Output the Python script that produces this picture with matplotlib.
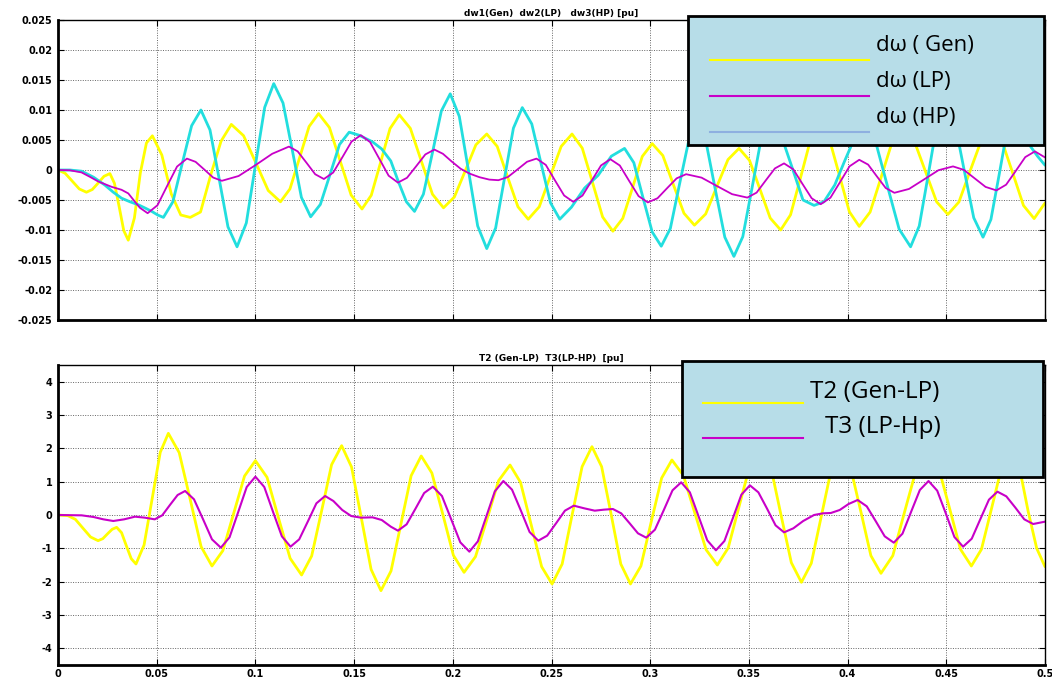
import numpy as np
import matplotlib
matplotlib.use("Agg")
from matplotlib import pyplot as plt
from matplotlib.patches import Rectangle
from matplotlib.lines import Line2D

plt.rcParams["axes.unicode_minus"] = False

# time axis [s] and speed deviations (x 1e-3 pu)
t_gen = [0.0000, 0.0036, 0.0072, 0.0108, 0.0144, 0.0174, 0.0204, 0.0233, 0.0263, 0.0286,
         0.0310, 0.0333, 0.0356, 0.0387, 0.0417, 0.0448, 0.0478, 0.0526, 0.0574, 0.0622,
         0.0670, 0.0722, 0.0774, 0.0826, 0.0878, 0.0940, 0.1003, 0.1065, 0.1127, 0.1175,
         0.1224, 0.1272, 0.1320, 0.1375, 0.1430, 0.1485, 0.1540, 0.1587, 0.1635, 0.1682,
         0.1729, 0.1785, 0.1841, 0.1897, 0.1953, 0.2008, 0.2063, 0.2117, 0.2172, 0.2225,
         0.2277, 0.2330, 0.2382, 0.2438, 0.2493, 0.2549, 0.2604, 0.2656, 0.2708, 0.2759,
         0.2811, 0.2861, 0.2911, 0.2960, 0.3010, 0.3064, 0.3117, 0.3171, 0.3224, 0.3281,
         0.3337, 0.3394, 0.3450, 0.3503, 0.3556, 0.3608, 0.3661, 0.3711, 0.3761, 0.3810,
         0.3860, 0.3910, 0.3960, 0.4009, 0.4059, 0.4114, 0.4170, 0.4225, 0.4280, 0.4337,
         0.4394, 0.4451, 0.4508, 0.4564, 0.4619, 0.4675, 0.4730, 0.4784, 0.4838, 0.4891,
         0.4945, 0.5000]
dw_gen = [0, -0.54, -1.85, -3.16, -3.7, -3.25, -2.15, -1.05, -0.6, -2.22,
          -6.15, -10.08, -11.7, -8.0, -0.5, 4.5, 5.7, 2.5, -4.0, -7.5,
          -7.9, -7.0, -0.8, 4.8, 7.6, 5.72, 1.15, -3.42, -5.3, -3.15,
          2.05, 7.25, 9.4, 7.08, 1.45, -4.18, -6.5, -4.21, 1.35, 6.91,
          9.2, 6.94, 1.45, -4.04, -6.3, -4.5, -0.15, 4.2, 6.0, 3.93,
          -1.1, -6.13, -8.2, -6.13, -1.1, 3.93, 6.0, 3.63, -2.1, -7.83,
          -10.2, -8.07, -2.9, 2.27, 4.4, 2.41, -2.4, -7.21, -9.2, -7.33,
          -2.8, 1.73, 3.6, 1.61, -3.2, -8.01, -10.0, -7.47, -1.35, 4.77,
          7.3, 4.86, -1.05, -6.96, -9.4, -7.01, -1.2, 4.61, 7.0, 4.9,
          -0.2, -5.3, -7.4, -5.33, -0.3, 4.73, 6.8, 4.62, -0.65, -5.92,
          -8.1, -5.5]

t_lp = [0.0000, 0.0060, 0.0119, 0.0165, 0.0203, 0.0271, 0.0322, 0.0356, 0.0390, 0.0415,
        0.0454, 0.0504, 0.0553, 0.0603, 0.0653, 0.0697, 0.0742, 0.0786, 0.0830, 0.0915,
        0.1000, 0.1085, 0.1170, 0.1214, 0.1259, 0.1303, 0.1347, 0.1394, 0.1441, 0.1487,
        0.1534, 0.1581, 0.1628, 0.1675, 0.1722, 0.1768, 0.1815, 0.1861, 0.1907, 0.1950,
        0.1995, 0.2040, 0.2085, 0.2135, 0.2185, 0.2231, 0.2279, 0.2328, 0.2376, 0.2424,
        0.2471, 0.2517, 0.2564, 0.2610, 0.2657, 0.2704, 0.2751, 0.2798, 0.2846, 0.2893,
        0.2941, 0.2988, 0.3037, 0.3085, 0.3134, 0.3182, 0.3260, 0.3337, 0.3415, 0.3492,
        0.3539, 0.3585, 0.3632, 0.3678, 0.3725, 0.3771, 0.3818, 0.3864, 0.3913, 0.3962,
        0.4010, 0.4059, 0.4104, 0.4148, 0.4193, 0.4237, 0.4311, 0.4386, 0.4460, 0.4534,
        0.4589, 0.4644, 0.4699, 0.4754, 0.4803, 0.4852, 0.4900, 0.4949, 0.5000]
dw_lp = [0, -0.05, -0.4, -1.2, -1.9, -2.8, -3.3, -3.9, -5.3, -6.3,
         -7.2, -5.87, -2.65, 0.57, 1.9, 1.36, 0.05, -1.26, -1.8, -1.0,
         0.8, 2.7, 3.9, 3.11, 1.2, -0.71, -1.5, -0.43, 2.15, 4.73,
         5.8, 4.65, 1.85, -0.95, -2.1, -1.3, 0.65, 2.6, 3.4, 2.7,
         1.4, 0.2, -0.6, -1.2, -1.6, -1.7, -1.17, 0.1, 1.37, 1.9,
         0.85, -1.7, -4.25, -5.3, -4.26, -1.75, 0.76, 1.8, 0.75, -1.8,
         -4.35, -5.4, -4.71, -3.05, -1.39, -0.7, -1.27, -2.65, -4.03, -4.6,
         -3.77, -1.75, 0.27, 1.1, 0.11, -2.3, -4.71, -5.7, -4.62, -2.0,
         0.62, 1.7, 0.9, -1.05, -3.0, -3.8, -3.16, -1.6, -0.04, 0.6,
         0.02, -1.4, -2.82, -3.4, -2.45, -0.15, 2.15, 3.1, 2.1]

t_hp = [0.0000, 0.0060, 0.0120, 0.0180, 0.0237, 0.0280, 0.0322, 0.0365, 0.0407, 0.0445,
        0.0475, 0.0505, 0.0534, 0.0582, 0.0629, 0.0677, 0.0724, 0.0770, 0.0816, 0.0861,
        0.0907, 0.0954, 0.1000, 0.1047, 0.1093, 0.1140, 0.1187, 0.1233, 0.1280, 0.1329,
        0.1378, 0.1426, 0.1475, 0.1525, 0.1593, 0.1640, 0.1686, 0.1725, 0.1765, 0.1806,
        0.1851, 0.1897, 0.1942, 0.1987, 0.2033, 0.2080, 0.2126, 0.2172, 0.2217, 0.2262,
        0.2307, 0.2352, 0.2400, 0.2447, 0.2495, 0.2542, 0.2601, 0.2668, 0.2736, 0.2803,
        0.2870, 0.2917, 0.2963, 0.3010, 0.3056, 0.3102, 0.3147, 0.3193, 0.3238, 0.3285,
        0.3331, 0.3378, 0.3424, 0.3469, 0.3515, 0.3560, 0.3605, 0.3661, 0.3718, 0.3774,
        0.3830, 0.3880, 0.3935, 0.3985, 0.4035, 0.4085, 0.4144, 0.4202, 0.4261, 0.4319,
        0.4363, 0.4408, 0.4452, 0.4496, 0.4544, 0.4591, 0.4639, 0.4686, 0.4726, 0.4766,
        0.4805, 0.4845, 0.4885, 0.4925, 0.4962, 0.5000]
dw_hp = [0, 0, -0.2, -1.2, -2.5, -3.7, -4.7, -5.3, -5.8, -6.4,
         -6.9, -7.5, -7.9, -5.29, 1.05, 7.39, 10.0, 6.67, -1.4, -9.47,
         -12.8, -8.83, 0.8, 10.43, 14.4, 11.16, 3.3, -4.56, -7.8, -5.74,
         -0.75, 4.24, 6.3, 5.8, 4.7, 3.5, 1.5, -2.0, -5.3, -6.9,
         -4.04, 2.9, 9.84, 12.7, 8.93, -0.2, -9.33, -13.1, -9.67, -1.35,
         6.97, 10.4, 7.68, 1.1, -5.48, -8.2, -6.2, -3.0, -0.9, 2.3,
         3.6, 1.22, -4.55, -10.32, -12.7, -9.75, -2.6, 4.55, 7.5, 4.3,
         -3.45, -11.2, -14.4, -11.12, -3.15, 4.82, 8.1, 6.0, 0.5, -5.0,
         -5.9, -5.3, -2.5, 1.5, 5.3, 7.4, 4.45, -2.7, -9.85, -12.8,
         -9.33, -0.9, 7.53, 11.0, 7.76, -0.1, -7.96, -11.2, -8.25, -1.1,
         6.05, 9.0, 6.5, 4.0, 2.3, 0.8]

# shaft torques [pu]
t_t2 = [0.0000, 0.0050, 0.0088, 0.0127, 0.0165, 0.0203, 0.0227, 0.0250, 0.0274, 0.0297,
        0.0322, 0.0346, 0.0371, 0.0395, 0.0436, 0.0477, 0.0518, 0.0559, 0.0614, 0.0670,
        0.0725, 0.0780, 0.0835, 0.0890, 0.0945, 0.1000, 0.1059, 0.1117, 0.1176, 0.1234,
        0.1285, 0.1336, 0.1386, 0.1437, 0.1487, 0.1537, 0.1586, 0.1636, 0.1687, 0.1738,
        0.1789, 0.1840, 0.1894, 0.1949, 0.2003, 0.2057, 0.2115, 0.2174, 0.2232, 0.2290,
        0.2343, 0.2397, 0.2450, 0.2503, 0.2554, 0.2604, 0.2655, 0.2705, 0.2754, 0.2803,
        0.2851, 0.2900, 0.2953, 0.3005, 0.3058, 0.3110, 0.3168, 0.3225, 0.3283, 0.3340,
        0.3395, 0.3450, 0.3505, 0.3560, 0.3612, 0.3663, 0.3715, 0.3766, 0.3816, 0.3866,
        0.3916, 0.3966, 0.4017, 0.4068, 0.4118, 0.4169, 0.4229, 0.4288, 0.4348, 0.4407,
        0.4462, 0.4517, 0.4572, 0.4627, 0.4678, 0.4729, 0.4779, 0.4830, 0.4873, 0.4915,
        0.4958, 0.5000]
T2 = [0, -0.02, -0.13, -0.4, -0.66, -0.77, -0.71, -0.57, -0.43, -0.37,
      -0.53, -0.92, -1.31, -1.47, -0.9, 0.49, 1.88, 2.45, 1.87, 0.46,
      -0.95, -1.53, -1.07, 0.05, 1.17, 1.63, 1.13, -0.09, -1.3, -1.8,
      -1.23, 0.14, 1.51, 2.08, 1.44, -0.1, -1.63, -2.27, -1.68, -0.25,
      1.18, 1.77, 1.26, 0.03, -1.21, -1.72, -1.25, -0.11, 1.03, 1.5,
      0.98, -0.29, -1.55, -2.07, -1.47, -0.01, 1.45, 2.05, 1.45, -0.01,
      -1.47, -2.07, -1.53, -0.21, 1.11, 1.65, 1.19, 0.08, -1.04, -1.5,
      -0.99, 0.25, 1.49, 2.0, 1.41, -0.01, -1.43, -2.02, -1.45, -0.06,
      1.33, 1.9, 1.37, 0.08, -1.22, -1.75, -1.22, 0.08, 1.37, 1.9,
      1.4, 0.19, -1.03, -1.53, -1.03, 0.19, 1.4, 1.9, 1.35, 0.1,
      -1.0, -1.55]

t_t3 = [0.0000, 0.0120, 0.0180, 0.0230, 0.0280, 0.0335, 0.0390, 0.0440, 0.0490, 0.0528,
        0.0567, 0.0606, 0.0644, 0.0689, 0.0735, 0.0780, 0.0825, 0.0869, 0.0913, 0.0956,
        0.1000, 0.1045, 0.1089, 0.1134, 0.1178, 0.1222, 0.1266, 0.1309, 0.1353, 0.1395,
        0.1440, 0.1485, 0.1535, 0.1593, 0.1640, 0.1686, 0.1722, 0.1766, 0.1811, 0.1855,
        0.1899, 0.1945, 0.1992, 0.2038, 0.2084, 0.2127, 0.2170, 0.2213, 0.2256, 0.2300,
        0.2345, 0.2389, 0.2433, 0.2478, 0.2523, 0.2568, 0.2613, 0.2666, 0.2719, 0.2765,
        0.2811, 0.2853, 0.2896, 0.2938, 0.2980, 0.3024, 0.3069, 0.3113, 0.3157, 0.3201,
        0.3245, 0.3289, 0.3333, 0.3376, 0.3419, 0.3462, 0.3505, 0.3548, 0.3592, 0.3635,
        0.3678, 0.3725, 0.3775, 0.3830, 0.3875, 0.3915, 0.3960, 0.4005, 0.4051, 0.4097,
        0.4143, 0.4188, 0.4234, 0.4278, 0.4322, 0.4366, 0.4410, 0.4454, 0.4498, 0.4541,
        0.4585, 0.4629, 0.4672, 0.4716, 0.4759, 0.4804, 0.4850, 0.4895, 0.4940, 0.5000]
T3 = [0, -0.01, -0.06, -0.13, -0.18, -0.13, -0.05, -0.08, -0.13, -0.01,
      0.3, 0.6, 0.72, 0.47, -0.13, -0.73, -0.98, -0.67, 0.09, 0.84,
      1.15, 0.84, 0.1, -0.64, -0.95, -0.73, -0.19, 0.35, 0.57, 0.42,
      0.15, -0.03, -0.08, -0.07, -0.15, -0.35, -0.47, -0.28, 0.19, 0.66,
      0.85, 0.57, -0.13, -0.82, -1.1, -0.79, -0.04, 0.71, 1.02, 0.76,
      0.13, -0.51, -0.77, -0.62, -0.25, 0.13, 0.28, 0.2, 0.13, 0.16,
      0.18, 0.05, -0.25, -0.55, -0.68, -0.44, 0.15, 0.74, 0.98, 0.68,
      -0.04, -0.76, -1.06, -0.78, -0.09, 0.61, 0.89, 0.68, 0.19, -0.31,
      -0.52, -0.4, -0.18, 0.0, 0.05, 0.06, 0.15, 0.33, 0.45, 0.26,
      -0.19, -0.64, -0.83, -0.56, 0.1, 0.75, 1.02, 0.73, 0.04, -0.66,
      -0.95, -0.71, -0.13, 0.46, 0.7, 0.56, 0.22, -0.13, -0.27, -0.2]

W, H = 1052, 679
YEL, MAG, CYA = "#ffff00", "#c800c8", "#22dede"


def fx(px):
    return px / W


def fy(py):
    return 1 - py / H


fig = plt.figure(figsize=(W / 100, H / 100), dpi=100)
ax1 = fig.add_axes([fx(58), fy(320), (1045 - 58) / W, 300 / H])
ax2 = fig.add_axes([fx(58), fy(665), (1045 - 58) / W, 300 / H])

line_kw = dict(solid_joinstyle="round", solid_capstyle="round")
ax1.plot(t_gen, np.array(dw_gen) * 1e-3, color=YEL, lw=2.0, **line_kw)
ax1.plot(t_hp, np.array(dw_hp) * 1e-3, color=CYA, lw=2.0, **line_kw)
ax1.plot(t_lp, np.array(dw_lp) * 1e-3, color=MAG, lw=1.3, **line_kw)
ax1.set_ylim(-0.025, 0.025)
yt1 = np.arange(-0.025, 0.0251, 0.005)
ax1.set_yticks(yt1)
ax1.set_yticklabels(["%g" % round(v, 3) for v in yt1])
ax1.set_title("dw1(Gen)  dw2(LP)   dw3(HP) [pu]", fontsize=6.5, fontweight="bold", pad=3)

ax2.plot(t_t2, T2, color=YEL, lw=2.0, **line_kw)
ax2.plot(t_t3, T3, color=MAG, lw=1.5, **line_kw)
ax2.set_ylim(-4.5, 4.5)
ax2.set_yticks(range(-4, 5))
ax2.set_title("T2 (Gen-LP)  T3(LP-HP)  [pu]", fontsize=6.5, fontweight="bold", pad=3)

xt = np.arange(0, 0.501, 0.05)
for ax in (ax1, ax2):
    ax.set_xlim(0, 0.5)
    ax.set_xticks(xt)
    ax.grid(True, linestyle=(0, (1, 1.5)), color="0.4", linewidth=0.7)
    ax.tick_params(direction="in", length=4, width=0.8, top=True, right=True,
                   labelsize=7, pad=4)
    for s in ax.spines.values():
        s.set_linewidth(1.0)
    ax.spines["left"].set_linewidth(2)
    ax.spines["bottom"].set_linewidth(2)
    plt.setp(ax.get_yticklabels(), fontweight="bold")
ax1.set_xticklabels([])
ax2.set_xticklabels(["%g" % round(v, 2) for v in xt], fontweight="bold")
ax2.tick_params(axis="x", pad=3)

# legend boxes drawn by hand, as in the picture
leg_font = ["Open Sans", "DejaVu Sans"]
fig.add_artist(Rectangle((fx(688), fy(145)), (1044 - 688) / W, (145 - 16) / H,
                         transform=fig.transFigure, facecolor="#b7dde8",
                         edgecolor="black", linewidth=2, zorder=5))
for ypx, col, txt in [(60, YEL, "dω ( Gen)"), (96, MAG, "dω (LP)"), (132, "#8eb0e0", "dω (HP)")]:
    fig.add_artist(Line2D([fx(710), fx(869)], [fy(ypx), fy(ypx)], color=col, lw=1.5,
                          transform=fig.transFigure, zorder=6))
    fig.text(fx(876), fy(ypx - 14), txt, fontsize=16, family=leg_font,
             va="center", ha="left", zorder=6)

fig.add_artist(Rectangle((fx(682), fy(477)), (1043 - 682) / W, (477 - 361) / H,
                         transform=fig.transFigure, facecolor="#b7dde8",
                         edgecolor="black", linewidth=2, zorder=5))
for ypx, col, txt, xpx in [(403, YEL, "T2 (Gen-LP)", 810), (438, MAG, "T3 (LP-Hp)", 825)]:
    fig.add_artist(Line2D([fx(703), fx(803)], [fy(ypx), fy(ypx)], color=col, lw=1.5,
                          transform=fig.transFigure, zorder=6))
    fig.text(fx(xpx), fy(ypx - 11), txt, fontsize=17.5, family=leg_font,
             va="center", ha="left", zorder=6)

plt.savefig("out.png", dpi=100)
